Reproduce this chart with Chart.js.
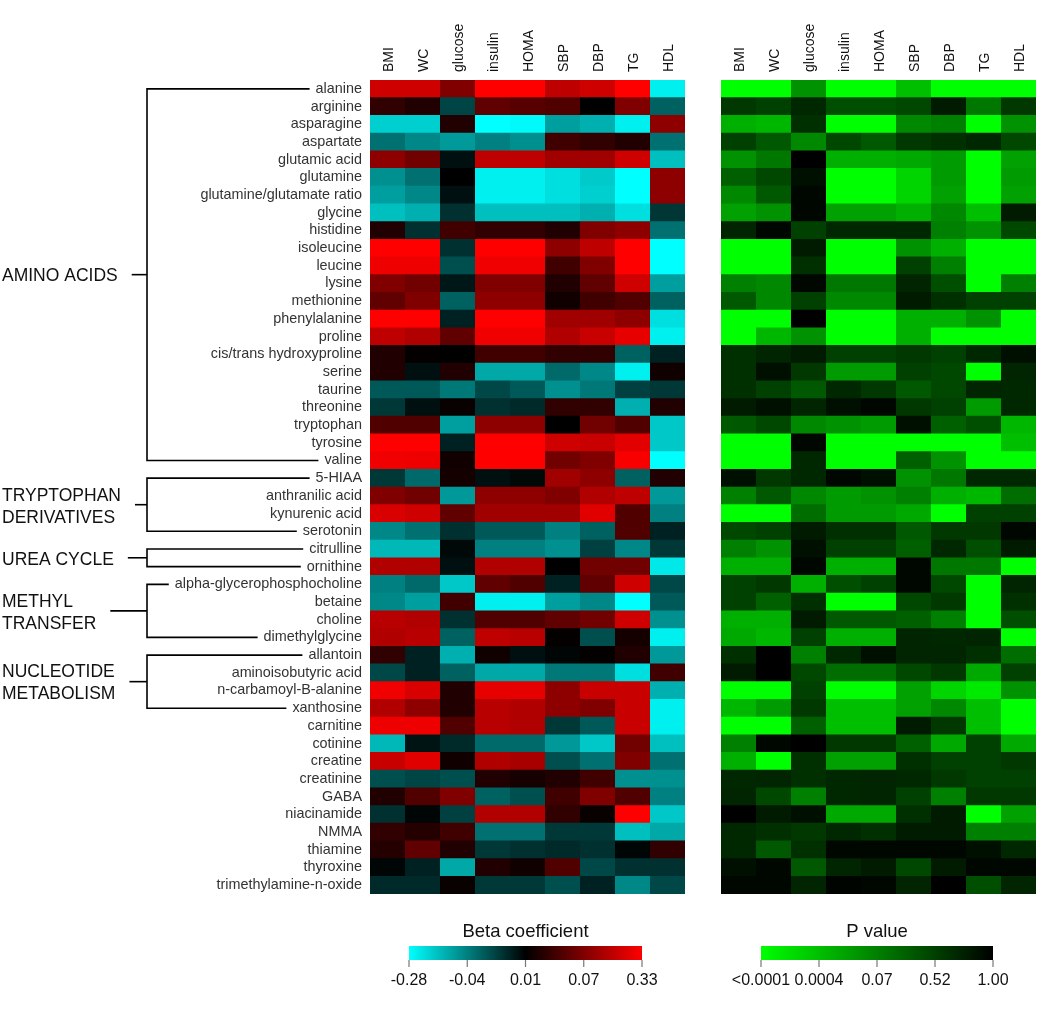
<!DOCTYPE html>
<html>
<head>
<meta charset="utf-8">
<script src="https://cdn.jsdelivr.net/npm/chart.js@4.4.1/dist/chart.umd.min.js"></script>
<style>
body { margin: 0; background: #fff; }
#wrap { position: relative; width: 1050px; height: 1014px; overflow: hidden; }
#betaChart { position: absolute; left: 0; top: 0; }
#pChart { position: absolute; left: 700px; top: 0; }
</style>
</head>
<body>
<div id="wrap">
  <canvas id="betaChart" width="700" height="1014"></canvas>
  <canvas id="pChart" width="350" height="1014"></canvas>
</div>
<script>
// --- data ---
const measures = ["BMI", "WC", "glucose", "insulin", "HOMA", "SBP", "DBP", "TG", "HDL"];

const metabolites = [
  "alanine", "arginine", "asparagine", "aspartate", "glutamic acid", "glutamine",
  "glutamine/glutamate ratio", "glycine", "histidine", "isoleucine", "leucine", "lysine",
  "methionine", "phenylalanine", "proline", "cis/trans hydroxyproline", "serine", "taurine",
  "threonine", "tryptophan", "tyrosine", "valine", "5-HIAA", "anthranilic acid",
  "kynurenic acid", "serotonin", "citrulline", "ornithine", "alpha-glycerophosphocholine",
  "betaine", "choline", "dimethylglycine", "allantoin", "aminoisobutyric acid",
  "n-carbamoyl-B-alanine", "xanthosine", "carnitine", "cotinine", "creatine", "creatinine",
  "GABA", "niacinamide", "NMMA", "thiamine", "thyroxine", "trimethylamine-n-oxide"
];

const groups = [
  { lines: ["AMINO ACIDS"], first: "alanine", last: "valine" },
  { lines: ["TRYPTOPHAN", "DERIVATIVES"], first: "5-HIAA", last: "serotonin" },
  { lines: ["UREA CYCLE"], first: "citrulline", last: "ornithine" },
  { lines: ["METHYL", "TRANSFER"], first: "alpha-glycerophosphocholine", last: "dimethylglycine" },
  { lines: ["NUCLEOTIDE", "METABOLISM"], first: "allantoin", last: "xanthosine" }
];

// beta coefficient, one row per metabolite, columns follow measures
const beta = [
  [0.23, 0.23, 0.07, 0.33, 0.33, 0.2, 0.23, 0.33, -0.25],
  [0.033, 0.025, -0.017, 0.055, 0.051, 0.048, 0.01, 0.07, -0.028],
  [-0.19, -0.19, 0.025, -0.28, -0.27, -0.1, -0.13, -0.25, 0.1],
  [-0.034, -0.056, -0.09, -0.04, -0.07, 0.04, 0.033, 0.025, -0.034],
  [0.1, 0.063, 0.004, 0.2, 0.2, 0.136, 0.136, 0.23, -0.16],
  [-0.071, -0.034, 0.01, -0.25, -0.25, -0.22, -0.18, -0.28, 0.1],
  [-0.1, -0.056, 0.004, -0.25, -0.25, -0.22, -0.19, -0.28, 0.1],
  [-0.16, -0.13, -0.009, -0.16, -0.16, -0.16, -0.13, -0.22, -0.011],
  [0.025, -0.009, 0.04, 0.033, 0.033, 0.025, 0.07, 0.1, -0.034],
  [0.33, 0.33, -0.009, 0.33, 0.33, 0.1, 0.2, 0.33, -0.28],
  [0.295, 0.295, -0.021, 0.3, 0.3, 0.04, 0.07, 0.33, -0.28],
  [0.07, 0.063, 0.001, 0.07, 0.07, 0.025, 0.055, 0.23, -0.1],
  [0.055, 0.07, -0.028, 0.1, 0.1, 0.018, 0.04, 0.048, -0.028],
  [0.33, 0.33, -0.003, 0.33, 0.33, 0.136, 0.136, 0.1, -0.22],
  [0.2, 0.17, 0.055, 0.3, 0.3, 0.17, 0.22, 0.28, -0.25],
  [0.025, 0.012, 0.01, 0.04, 0.04, 0.033, 0.033, -0.028, -0.003],
  [0.025, 0.004, 0.025, -0.116, -0.116, -0.031, -0.056, -0.25, 0.018],
  [-0.025, -0.025, -0.037, -0.018, -0.025, -0.071, -0.037, -0.015, -0.012],
  [-0.012, 0.004, 0.014, -0.009, -0.006, 0.033, 0.033, -0.13, 0.025],
  [0.048, 0.048, -0.1, 0.1, 0.1, 0.01, 0.063, 0.048, -0.176],
  [0.33, 0.33, -0.003, 0.33, 0.33, 0.23, 0.22, 0.27, -0.176],
  [0.3, 0.295, 0.018, 0.33, 0.33, 0.063, 0.07, 0.315, -0.28],
  [-0.012, -0.031, 0.02, 0.004, 0.007, 0.136, 0.1, -0.028, 0.025],
  [0.07, 0.063, -0.086, 0.1, 0.1, 0.07, 0.17, 0.2, -0.086],
  [0.25, 0.23, 0.055, 0.136, 0.136, 0.136, 0.267, 0.048, -0.04],
  [-0.056, -0.034, -0.009, -0.025, -0.025, -0.04, -0.028, 0.048, -0.003],
  [-0.146, -0.146, 0.007, -0.04, -0.04, -0.071, -0.015, -0.056, -0.012],
  [0.17, 0.17, 0.004, 0.17, 0.17, 0.01, 0.063, 0.063, -0.237],
  [-0.04, -0.031, -0.176, 0.055, 0.048, -0.003, 0.055, 0.23, -0.018],
  [-0.056, -0.1, 0.04, -0.25, -0.25, -0.1, -0.056, -0.28, -0.025],
  [0.185, 0.17, -0.009, 0.048, 0.048, 0.055, 0.063, 0.23, -0.071],
  [0.17, 0.185, -0.028, 0.2, 0.185, 0.012, -0.021, 0.02, -0.25],
  [0.033, -0.003, -0.13, 0.018, 0.004, 0.008, 0.012, 0.025, -0.086],
  [-0.018, -0.003, -0.028, -0.116, -0.116, -0.037, -0.037, -0.22, 0.04],
  [0.3, 0.25, 0.025, 0.28, 0.28, 0.1, 0.22, 0.22, -0.13],
  [0.17, 0.1, 0.025, 0.185, 0.17, 0.1, 0.07, 0.22, -0.25],
  [0.295, 0.295, 0.048, 0.185, 0.17, -0.012, -0.025, 0.22, -0.25],
  [-0.146, 0.002, -0.006, -0.031, -0.031, -0.086, -0.176, 0.063, -0.16],
  [0.22, 0.267, 0.018, 0.17, 0.153, -0.021, -0.034, 0.07, -0.034],
  [-0.021, -0.017, -0.021, 0.025, 0.021, 0.025, 0.04, -0.071, -0.071],
  [0.025, 0.048, 0.07, -0.028, -0.021, 0.04, 0.07, 0.048, -0.04],
  [-0.009, 0.008, -0.015, 0.17, 0.17, 0.033, 0.014, 0.33, -0.176],
  [0.033, 0.027, 0.04, -0.034, -0.034, -0.012, -0.012, -0.16, -0.116],
  [0.027, 0.055, 0.025, -0.012, -0.009, -0.006, -0.009, 0.008, 0.033],
  [0.008, -0.003, -0.116, 0.025, 0.018, 0.048, -0.018, -0.009, -0.009],
  [-0.006, -0.006, 0.014, -0.012, -0.012, -0.021, -0.003, -0.056, -0.018]
];

// p values, same layout
const pval = [
  [0.0001, 0.0001, 0.05, 0.0001, 0.0001, 0.0004, 0.0001, 0.0001, 0.0001],
  [0.58, 0.52, 0.7, 0.41, 0.41, 0.46, 0.8, 0.12, 0.58],
  [0.017, 0.009, 0.64, 0.0001, 0.0001, 0.06, 0.07, 0.0001, 0.05],
  [0.52, 0.34, 0.06, 0.46, 0.34, 0.58, 0.64, 0.7, 0.46],
  [0.05, 0.12, 1.0, 0.017, 0.017, 0.025, 0.04, 0.0001, 0.033],
  [0.29, 0.46, 0.88, 0.0001, 0.0001, 0.0003, 0.04, 0.0001, 0.04],
  [0.06, 0.34, 0.95, 0.0001, 0.0001, 0.0003, 0.033, 0.0001, 0.033],
  [0.033, 0.05, 0.95, 0.033, 0.033, 0.017, 0.06, 0.0004, 0.8],
  [0.72, 0.95, 0.52, 0.7, 0.7, 0.7, 0.07, 0.05, 0.46],
  [0.0001, 0.0001, 0.8, 0.0001, 0.0001, 0.05, 0.017, 0.0001, 0.0001],
  [0.0001, 0.0001, 0.64, 0.0001, 0.0001, 0.52, 0.07, 0.0001, 0.0001],
  [0.07, 0.06, 0.95, 0.12, 0.12, 0.72, 0.41, 0.0001, 0.07],
  [0.34, 0.06, 0.52, 0.06, 0.06, 0.8, 0.64, 0.52, 0.52],
  [0.0001, 0.0001, 1.0, 0.0001, 0.0001, 0.017, 0.017, 0.05, 0.0001],
  [0.0001, 0.009, 0.05, 0.0001, 0.0001, 0.017, 0.0001, 0.0001, 0.0001],
  [0.64, 0.72, 0.8, 0.52, 0.52, 0.58, 0.52, 0.7, 0.88],
  [0.64, 0.88, 0.58, 0.04, 0.04, 0.52, 0.46, 0.0001, 0.72],
  [0.64, 0.52, 0.34, 0.7, 0.58, 0.34, 0.46, 0.72, 0.7],
  [0.8, 0.88, 0.72, 0.88, 0.95, 0.58, 0.52, 0.04, 0.7],
  [0.34, 0.46, 0.06, 0.05, 0.04, 0.88, 0.29, 0.41, 0.009],
  [0.0001, 0.0001, 0.95, 0.0001, 0.0001, 0.0001, 0.0001, 0.0001, 0.0004],
  [0.0001, 0.0001, 0.7, 0.0001, 0.0001, 0.29, 0.05, 0.0001, 0.0001],
  [0.88, 0.58, 0.7, 0.95, 0.88, 0.05, 0.12, 0.7, 0.7],
  [0.07, 0.34, 0.06, 0.04, 0.05, 0.07, 0.017, 0.009, 0.2],
  [0.0001, 0.0001, 0.2, 0.04, 0.04, 0.025, 0.0001, 0.52, 0.52],
  [0.46, 0.52, 0.8, 0.64, 0.64, 0.34, 0.58, 0.58, 0.95],
  [0.07, 0.05, 0.88, 0.52, 0.52, 0.29, 0.7, 0.41, 0.8],
  [0.017, 0.017, 0.95, 0.017, 0.017, 0.95, 0.12, 0.12, 0.0001],
  [0.52, 0.58, 0.017, 0.41, 0.52, 0.95, 0.46, 0.0001, 0.72],
  [0.52, 0.29, 0.64, 0.0001, 0.0001, 0.46, 0.58, 0.0001, 0.64],
  [0.017, 0.017, 0.8, 0.34, 0.34, 0.29, 0.07, 0.0001, 0.41],
  [0.025, 0.009, 0.52, 0.017, 0.017, 0.72, 0.7, 0.72, 0.0001],
  [0.64, 1.0, 0.07, 0.7, 0.88, 0.72, 0.72, 0.64, 0.2],
  [0.8, 1.0, 0.46, 0.2, 0.2, 0.46, 0.58, 0.025, 0.52],
  [0.0001, 0.0001, 0.52, 0.0001, 0.0001, 0.033, 0.0003, 0.0002, 0.05],
  [0.009, 0.04, 0.58, 0.0004, 0.0004, 0.033, 0.06, 0.0004, 0.0001],
  [0.0001, 0.0001, 0.29, 0.0004, 0.0004, 0.8, 0.58, 0.0004, 0.0001],
  [0.07, 0.95, 1.0, 0.58, 0.58, 0.29, 0.025, 0.52, 0.025],
  [0.017, 0.0001, 0.64, 0.033, 0.033, 0.64, 0.52, 0.52, 0.58],
  [0.7, 0.72, 0.64, 0.7, 0.72, 0.7, 0.58, 0.52, 0.52],
  [0.72, 0.46, 0.07, 0.7, 0.72, 0.52, 0.07, 0.58, 0.58],
  [1.0, 0.8, 0.88, 0.025, 0.025, 0.64, 0.8, 0.0001, 0.033],
  [0.7, 0.64, 0.58, 0.7, 0.64, 0.8, 0.8, 0.07, 0.07],
  [0.7, 0.34, 0.64, 0.95, 0.95, 0.95, 0.95, 0.88, 0.7],
  [0.88, 0.95, 0.34, 0.72, 0.8, 0.46, 0.8, 0.95, 0.95],
  [0.95, 0.95, 0.72, 0.97, 0.95, 0.72, 1.0, 0.41, 0.72]
];

const betaTicks = [-0.28, -0.04, 0.01, 0.07, 0.33];
const betaTickLabels = ["-0.28", "-0.04", "0.01", "0.07", "0.33"];
const pTicks = [0.0001, 0.0004, 0.07, 0.52, 1.0];
const pTickLabels = ["<0.0001", "0.0004", "0.07", "0.52", "1.00"];

// --- colour scales ---
const FONT = '"Liberation Sans", Arial, Helvetica, sans-serif';
Chart.defaults.font.family = FONT;

// position (0..1) of a value on a scale whose ticks are equally spaced
const scalePos = (v, ticks) => {
    if (v <= ticks[0]) return 0;
    for (let i = 1; i < ticks.length; i++) {
        if (v <= ticks[i]) {
            const f = (v - ticks[i - 1]) / (ticks[i] - ticks[i - 1]);
            return (i - 1 + f) / (ticks.length - 1);
        }
    }
    return 1;
};

const betaColorAt = (t) => {
    if (t < 0.5) {
        const s = Math.round((0.5 - t) * 2 * 255);
        return "rgb(0," + s + "," + s + ")";
    }
    const s = Math.round((t - 0.5) * 2 * 255);
    return "rgb(" + s + ",0,0)";
};

const pColorAt = (t) => "rgb(0," + Math.round((1 - t) * 255) + ",0)";

const betaColor = (v) => betaColorAt(scalePos(v, betaTicks));
const pColor = (v) => pColorAt(scalePos(v, pTicks));

// --- plugins ---
const LABEL_SIZE = 14.4;
const LABEL_PAD = 8;

const bracketPlugin = {
    id: "brackets",
    afterDraw(chart) {
        const ctx = chart.ctx;
        const ys = chart.scales.y;
        const spineX = 147;
        const textRight = ys.right - LABEL_PAD;
        ctx.save();
        ctx.strokeStyle = "#000";
        ctx.lineWidth = 1.6;
        groups.forEach(g => {
            const yTop = ys.getPixelForValue(metabolites.indexOf(g.first));
            const yBot = ys.getPixelForValue(metabolites.indexOf(g.last));
            ctx.font = LABEL_SIZE + "px " + FONT;
            const endTop = textRight - ctx.measureText(g.first).width - 6;
            const endBot = textRight - ctx.measureText(g.last).width - 6;
            ctx.beginPath();
            ctx.moveTo(endTop, yTop);
            ctx.lineTo(spineX, yTop);
            ctx.lineTo(spineX, yBot);
            ctx.lineTo(endBot, yBot);
            ctx.stroke();

            const yMid = (yTop + yBot) / 2;
            ctx.font = "17.5px " + FONT;
            const w = Math.max(...g.lines.map(l => ctx.measureText(l).width));
            ctx.beginPath();
            ctx.moveTo(2 + w + 14, yMid);
            ctx.lineTo(spineX, yMid);
            ctx.stroke();
            ctx.fillStyle = "#111";
            ctx.textAlign = "left";
            ctx.textBaseline = "middle";
            g.lines.forEach((l, i) => {
                ctx.fillText(l, 2, yMid + 2 + (i - (g.lines.length - 1) / 2) * 22);
            });
        });
        ctx.restore();
    }
};

const colorBar = (opts) => ({
    id: "colorbar",
    afterDraw(chart) {
        const ctx = chart.ctx;
        const top = 946, h = 14;
        ctx.save();
        const grad = ctx.createLinearGradient(opts.x0, 0, opts.x1, 0);
        for (let i = 0; i <= 40; i++) grad.addColorStop(i / 40, opts.color(i / 40));
        ctx.fillStyle = grad;
        ctx.fillRect(opts.x0, top, opts.x1 - opts.x0, h);

        ctx.fillStyle = "#111";
        ctx.textAlign = "center";
        ctx.textBaseline = "middle";
        ctx.font = "18.5px " + FONT;
        ctx.fillText(opts.title, (opts.x0 + opts.x1) / 2, 932);

        ctx.strokeStyle = "#777";
        ctx.lineWidth = 1.2;
        ctx.font = "16px " + FONT;
        opts.labels.forEach((lab, i) => {
            const x = opts.x0 + (opts.x1 - opts.x0) * i / (opts.labels.length - 1);
            ctx.beginPath();
            ctx.moveTo(x, top + h);
            ctx.lineTo(x, top + h + 7);
            ctx.stroke();
            ctx.fillText(lab, x, 981);
        });
        ctx.restore();
    }
});

// --- charts ---
const makeDatasets = (matrix, colorFn) => measures.map((m, j) => ({
    label: m,
    data: metabolites.map(() => 1),
    backgroundColor: matrix.map(row => colorFn(row[j])),
    borderWidth: 0,
    barPercentage: 1.04,
    categoryPercentage: 1
}));

const topAxis = {
    type: "linear",
    position: "top",
    stacked: true,
    min: 0,
    max: measures.length,
    grid: { display: false, drawTicks: false },
    border: { display: false },
    afterBuildTicks: s => { s.ticks = measures.map((m, i) => ({ value: i + 0.5 })); },
    afterFit: s => { s.height = 80; },
    ticks: {
        autoSkip: false,
        minRotation: 90,
        maxRotation: 90,
        padding: 8,
        labelOffset: 18,
        color: "#111",
        font: { size: 14 },
        callback: (v, i) => measures[i]
    }
};

const baseOptions = (yAxis, padding) => ({
    responsive: false,
    animation: false,
    indexAxis: "y",
    layout: { padding: padding },
    plugins: { legend: { display: false }, tooltip: { enabled: false } },
    scales: { x: topAxis, y: yAxis }
});

new Chart(document.getElementById("betaChart"), {
    type: "bar",
    data: { labels: metabolites, datasets: makeDatasets(beta, betaColor) },
    options: baseOptions({
        type: "category",
        stacked: true,
        grid: { display: false, drawTicks: false },
        border: { display: false },
        afterFit: s => { s.width = 370; },
        ticks: { autoSkip: false, padding: LABEL_PAD, color: "#333", font: { size: LABEL_SIZE } }
    }, { left: 0, right: 15, top: 0, bottom: 120 }),
    plugins: [bracketPlugin, colorBar({
        x0: 409, x1: 642, title: "Beta coefficient", labels: betaTickLabels, color: betaColorAt
    })]
});

new Chart(document.getElementById("pChart"), {
    type: "bar",
    data: { labels: metabolites, datasets: makeDatasets(pval, pColor) },
    options: baseOptions({
        type: "category",
        stacked: true,
        display: false
    }, { left: 21, right: 14, top: 0, bottom: 120 }),
    plugins: [colorBar({
        x0: 61, x1: 293, title: "P value", labels: pTickLabels, color: pColorAt
    })]
});
</script>
</body>
</html>
